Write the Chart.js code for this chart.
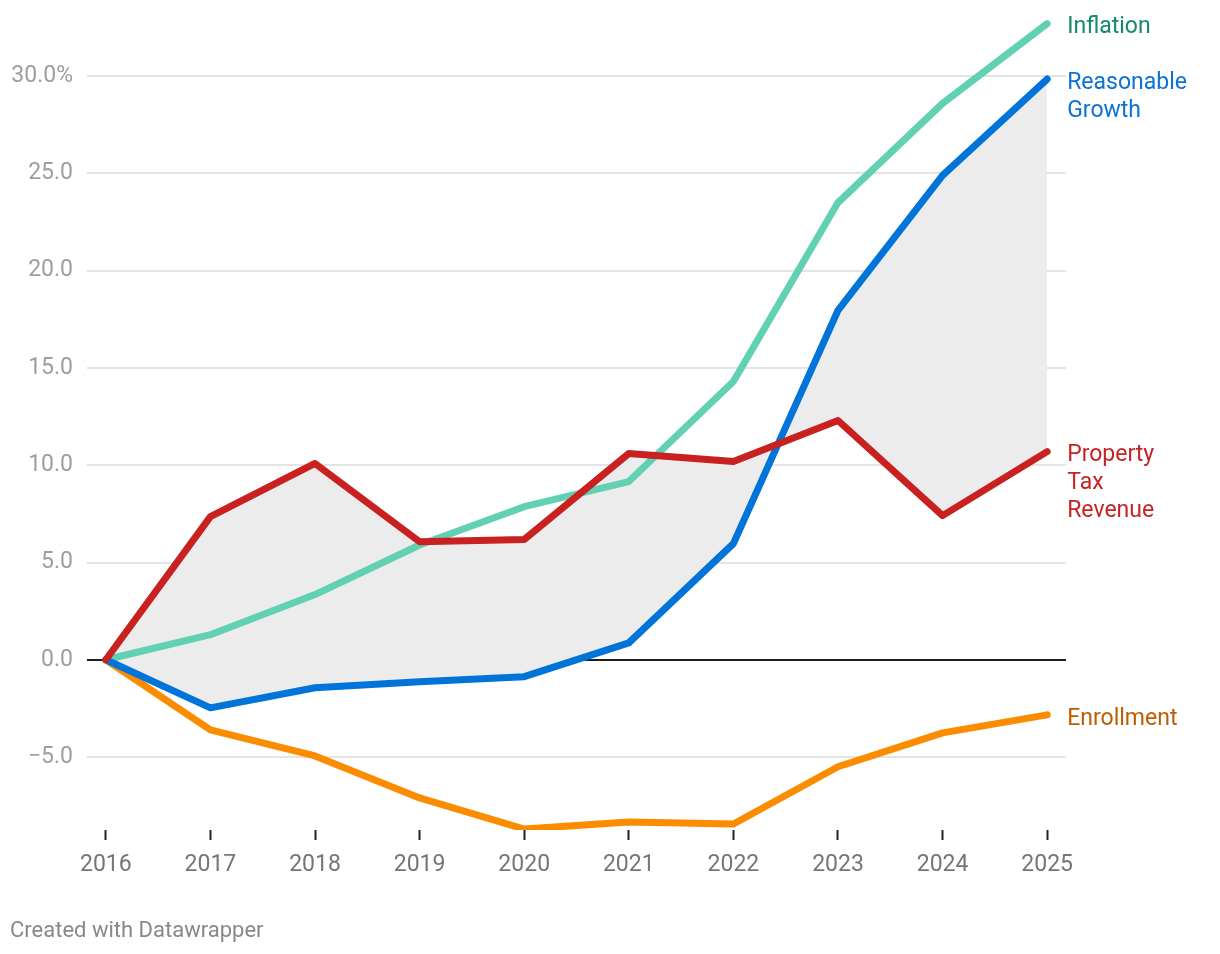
<!DOCTYPE html>
<html>
<head>
<meta charset="utf-8">
<script src="https://cdn.jsdelivr.net/npm/chart.js@4/dist/chart.umd.min.js"></script>
<style>
  html, body { margin: 0; padding: 0; background: #fff; }
  #wrap { width: 1220px; height: 954px; position: relative; }
</style>
</head>
<body>
<div id="wrap"><canvas id="chart"></canvas></div>
<script>
const years = [2016, 2017, 2018, 2019, 2020, 2021, 2022, 2023, 2024, 2025];
const propertyTax = [0, 7.36, 10.09, 6.07, 6.18, 10.6, 10.19, 12.3, 7.41, 10.7];
const reasonableGrowth = [0, -2.47, -1.44, -1.13, -0.87, 0.87, 5.97, 17.96, 24.9, 29.85];
const inflation = [0, 1.29, 3.35, 5.9, 7.87, 9.16, 14.3, 23.5, 28.6, 32.7];
const enrollment = [0, -3.6, -4.94, -7.1, -8.7, -8.34, -8.44, -5.5, -3.76, -2.83];
const yTicks = [-5, 0, 5, 10, 15, 20, 25, 30];

const FONT = 'Roboto, "Noto Sans", sans-serif';

const toPoints = (vals) => years.map((yr, i) => ({ x: yr, y: vals[i] }));

// labels written at the end of each line
const endLabels = {
  id: 'endLabels',
  afterDatasetsDraw(chart) {
    const ctx = chart.ctx;
    ctx.save();
    ctx.font = '23px ' + FONT;
    ctx.textAlign = 'left';
    ctx.textBaseline = 'middle';
    chart.data.datasets.forEach((ds, i) => {
      const meta = chart.getDatasetMeta(i);
      const last = meta.data[meta.data.length - 1];
      ctx.fillStyle = ds.labelColor;
      ds.endLabel.forEach((line, j) => {
        ctx.fillText(line, last.x + 20, last.y + 4 + j * 28);
      });
    });
    ctx.restore();
  },
  afterDraw(chart) {
    const ctx = chart.ctx;
    ctx.save();
    ctx.font = '22px ' + FONT;
    ctx.fillStyle = '#888888';
    ctx.textBaseline = 'middle';
    ctx.fillText('Created with Datawrapper', 10, 931);
    ctx.restore();
  }
};

const lineStyle = {
  pointRadius: 0,
  pointHoverRadius: 0,
  borderWidth: 7,
  borderCapStyle: 'round',
  borderJoinStyle: 'round',
  tension: 0
};

new Chart(document.getElementById('chart'), {
  type: 'line',
  data: {
    datasets: [
      {
        ...lineStyle,
        label: 'Property Tax Revenue',
        data: toPoints(propertyTax),
        borderColor: '#c92020',
        labelColor: '#c62424',
        endLabel: ['Property', 'Tax', 'Revenue'],
        fill: { target: 1, above: '#ececec', below: '#ececec' }
      },
      {
        ...lineStyle,
        label: 'Reasonable Growth',
        data: toPoints(reasonableGrowth),
        borderColor: '#0074d9',
        labelColor: '#0a72d6',
        endLabel: ['Reasonable', 'Growth'],
        fill: false
      },
      {
        ...lineStyle,
        label: 'Inflation',
        data: toPoints(inflation),
        borderColor: '#62d1b3',
        labelColor: '#138a6b',
        endLabel: ['Inflation'],
        fill: false
      },
      {
        ...lineStyle,
        label: 'Enrollment',
        data: toPoints(enrollment),
        borderColor: '#fb8c00',
        labelColor: '#c05c00',
        endLabel: ['Enrollment'],
        fill: false
      }
    ]
  },
  options: {
    responsive: true,
    maintainAspectRatio: false,
    animation: false,
    events: [],
    layout: { padding: { left: 0, right: 154, top: 10, bottom: 64 } },
    plugins: {
      legend: { display: false },
      tooltip: { enabled: false },
      filler: { drawTime: 'beforeDatasetsDraw' }
    },
    scales: {
      x: {
        type: 'linear',
        min: 2015.82,
        max: 2025.18,
        afterBuildTicks: (scale) => { scale.ticks = years.map(v => ({ value: v })); },
        afterFit: (scale) => { scale.height = 60; scale.paddingLeft = 0; scale.paddingRight = 0; },
        border: { display: false },
        grid: {
          drawOnChartArea: false,
          drawTicks: true,
          tickLength: 10,
          tickColor: '#222222',
          tickWidth: 2
        },
        ticks: {
          padding: 11,
          color: '#767676',
          font: { family: FONT, size: 23 },
          callback: (v) => String(v),
          maxRotation: 0,
          autoSkip: false
        }
      },
      y: {
        min: -8.75,
        max: 33.4,
        afterBuildTicks: (scale) => { scale.ticks = yTicks.map(v => ({ value: v })); },
        afterFit: (scale) => { scale.width = 87; scale.paddingTop = 0; scale.paddingBottom = 0; },
        border: { display: false },
        grid: {
          drawTicks: false,
          color: (c) => c.tick && c.tick.value === 0 ? '#1e1e1e' : '#e4e4e4',
          lineWidth: 2
        },
        ticks: {
          padding: 14,
          color: '#9e9e9e',
          font: { family: FONT, size: 23 },
          callback: (v) => {
            const s = Math.abs(v).toFixed(1);
            const txt = (v < 0 ? '\u2212' : '') + s;
            return v === 30 ? txt + '%' : txt;
          }
        }
      }
    }
  },
  plugins: [endLabels]
});
</script>
</body>
</html>
